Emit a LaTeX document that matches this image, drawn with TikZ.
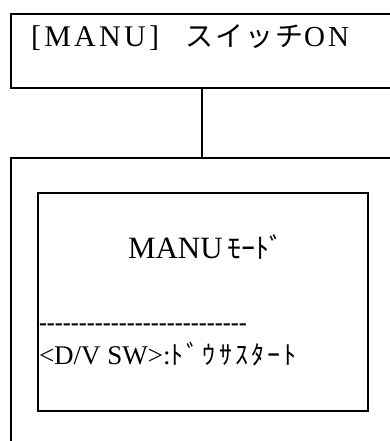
\documentclass[tikz,border=0pt]{standalone}
\usepackage{fontspec}
\setmainfont{Liberation Serif}
\newfontfamily\cjk{Noto Sans CJK JP}
\newfontfamily\wideserif[LetterSpace=11]{Liberation Serif}
\newfontfamily\widecjk[LetterSpace=8]{Noto Sans CJK JP}
\newfontfamily\spacedcjk[LetterSpace=12]{Noto Sans CJK JP}
\newcommand\hy{-\kern0pt}
\tikzset{
  box/.style={draw=black, line width=1.4pt, fill=none, inner sep=0pt, outer sep=0pt},
  lbl/.style={anchor=base west, inner sep=0pt, outer sep=0pt, text=black},
  link/.style={draw=black, line width=1.5pt}
}
\begin{document}
\begin{tikzpicture}[x=1pt,y=-1pt]
\useasboundingbox (0,0) rectangle (390,441);
% boxes
\node[box, minimum width=382pt, minimum height=74pt, anchor=north west] (top) at (11,14) {};
\node[box, minimum width=382pt, minimum height=300pt, anchor=north west] (big) at (11,158) {};
\node[box, line width=2pt, minimum width=330pt, minimum height=218pt, anchor=north west] (inner) at (38,193) {};
\draw[link] (top) -- (big);
% title
\node[lbl, font=\fontsize{30}{34}\wideserif] (t1) at (31,47) {[MANU]};
\node[lbl, font=\fontsize{28}{32}\widecjk] (t2) at (185,47) {スイッチ};
\node[lbl, font=\fontsize{29}{33}\wideserif] (t3) at (304,47) {ON};
% mode
\node[lbl, font=\fontsize{31}{36}\selectfont] (m1) at (128,258) {MANU};
\node[lbl, font=\fontsize{28}{32}\cjk, xshift=5pt] (m2) at (m1.base east) {ﾓｰﾄﾞ};
% dashes
\node[lbl, font=\fontsize{24}{28}\bfseries] (dash) at (39,330) {\hy\hy\hy\hy\hy\hy\hy\hy\hy\hy\hy\hy\hy\hy\hy\hy\hy\hy\hy\hy\hy\hy\hy\hy\hy\hy};
% switch line
\node[lbl, font=\fontsize{27}{32}\selectfont] (s1) at (39,364) {<D/V SW>:};
\node[lbl, font=\fontsize{26}{30}\spacedcjk] (s2) at (s1.base east) {ﾄﾞｳｻｽﾀｰﾄ};
\end{tikzpicture}
\end{document}
